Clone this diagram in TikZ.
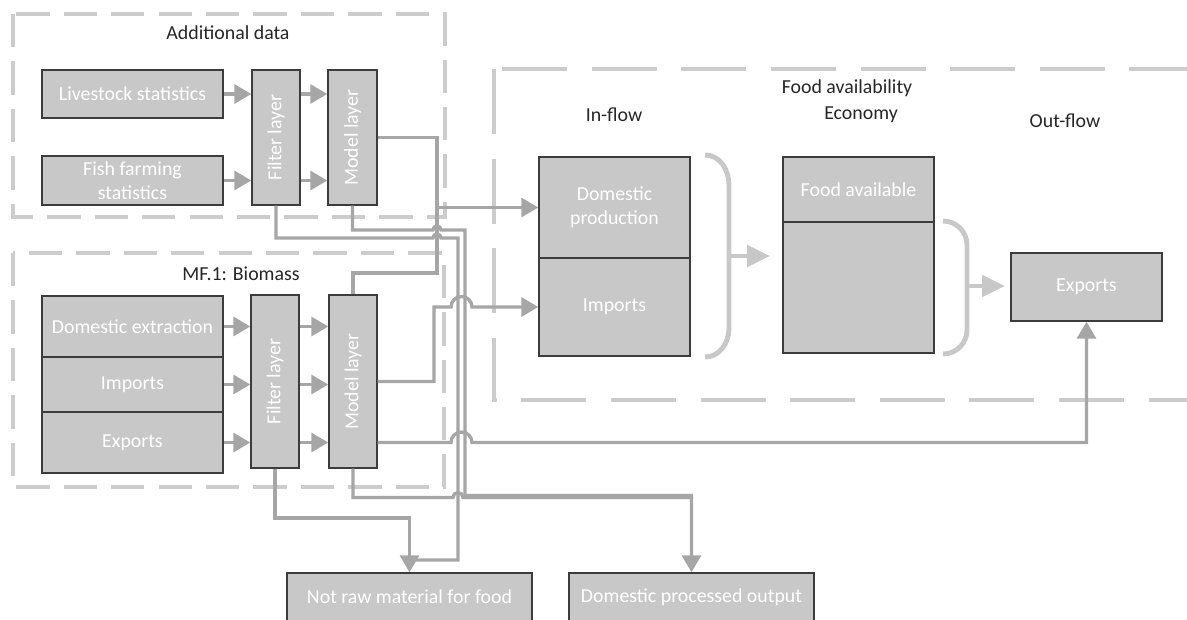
\documentclass[tikz,border=0pt]{standalone}
\usepackage{fontspec}
\setmainfont{Carlito}
\usetikzlibrary{arrows.meta}

\definecolor{boxgray}{RGB}{200,200,200}
\definecolor{edgegray}{RGB}{60,60,60}
\definecolor{linkgray}{RGB}{166,166,166}
\definecolor{dashgray}{RGB}{204,204,204}

\begin{document}
\begin{tikzpicture}[x=0.02cm,y=-0.02cm,>={Triangle[length=0.34cm,width=0.38cm]},font=\fontsize{11.3}{13.5}\selectfont]
  \tikzstyle{block}=[draw=edgegray,fill=boxgray,line width=0.8pt,text=white,inner sep=0pt,align=center]
  \tikzstyle{link}=[draw=linkgray,line width=1.9pt]
  \tikzstyle{flow}=[link,->]
  \tikzstyle{frame}=[draw=dashgray,line width=2pt,dash pattern=on 19pt off 8pt]
  \tikzstyle{bigframe}=[draw=dashgray,line width=2pt,dash pattern=on 37pt off 14pt]
  \tikzstyle{bracket}=[draw=boxgray,line width=2.8pt]
  \tikzstyle{title}=[text=black!85]

  \useasboundingbox (0,0) rectangle (1187,619);
  \clip (0,0) rectangle (1187,619);

  % dashed groups
  \draw[frame] (13,14) rectangle (445,217);
  \draw[frame] (13,253) rectangle (444,487);
  \draw[bigframe] (494,69) rectangle (1230,400);

  \node[title] (adtitle) at (228,33) {Additional data};
  \node[title] (mftitle) at (241,274) {MF.1: Biomass};
  \node[title] (fatitle) at (847,88) {Food availability};
  \node[title] (intitle) at (614,115) {In-flow};
  \node[title] (ectitle) at (861,115) {Economy};
  \node[title] (outtitle) at (1065,121) {Out-flow};

  % additional data
  \node[block,minimum width=3.62cm,minimum height=0.96cm] (live) at (132.5,94) {Livestock statistics};
  \node[block,minimum width=3.62cm,minimum height=0.98cm] (fish) at (132.5,180.5) {Fish farming\\statistics};
  \node[block,minimum width=0.96cm,minimum height=2.7cm] (filtA) at (276,137.5) {\rotatebox{90}{Filter layer}};
  \node[block,minimum width=0.98cm,minimum height=2.7cm] (modA) at (352.5,137.5) {\rotatebox{90}{Model layer}};

  % biomass
  \node[block,minimum width=3.62cm,minimum height=1.22cm] (bdext) at (132.5,326.5) {Domestic extraction};
  \node[block,minimum width=3.62cm,minimum height=1.1cm] (bimp) at (132.5,384.5) {Imports};
  \node[block,minimum width=3.62cm,minimum height=1.22cm] (bexp) at (132.5,442.5) {Exports};
  \node[block,minimum width=0.96cm,minimum height=3.46cm] (filtB) at (275,381.5) {\rotatebox{90}{Filter layer}};
  \node[block,minimum width=0.96cm,minimum height=3.46cm] (modB) at (353,381.5) {\rotatebox{90}{Model layer}};

  % food availability
  \node[block,minimum width=3.02cm,minimum height=2.02cm] (dprod) at (614.5,207.5) {Domestic\\production};
  \node[block,minimum width=3.02cm,minimum height=1.96cm] (fimp) at (614.5,307) {Imports};
  \node[block,minimum width=3.02cm,minimum height=1.3cm] (favail) at (858.5,189.5) {Food available};
  \node[block,minimum width=3.02cm,minimum height=2.62cm] (fstock) at (858.5,287.5) {};
  \node[block,minimum width=3.02cm,minimum height=1.36cm] (fexp) at (1086.5,287) {Exports};

  % outputs
  \node[block,minimum width=4.9cm,minimum height=0.96cm] (nraw) at (409.5,597) {Not raw material for food};
  \node[block,minimum width=4.9cm,minimum height=0.96cm] (dpo) at (691.5,597) {Domestic processed output};

  % into and out of the layers
  \foreach \src in {live,fish}{
    \draw[flow] (\src.east) -- (\src.east -| filtA.west);
    \draw[flow] (\src.east -| filtA.east) -- (\src.east -| modA.west);
  }
  \foreach \src in {bdext,bimp,bexp}{
    \draw[flow] (\src.east) -- (\src.east -| filtB.west);
    \draw[flow] (\src.east -| filtB.east) -- (\src.east -| modB.west);
  }

  % braces
  \draw[bracket] (705,155) to[out=0,in=90] (729,185) -- (729,328) to[out=-90,in=0] (705,357);
  \draw[bracket,-{Triangle[length=0.46cm,width=0.42cm]}] (729,256) -- (770,256);
  \draw[bracket] (943,221) to[out=0,in=90] (967,245) -- (967,330) to[out=-90,in=0] (943,354);
  \draw[bracket,-{Triangle[length=0.46cm,width=0.42cm]}] (967,286) -- (1005,286);

  % routing
  \coordinate (jdom) at (437,207.5);
  \draw[flow] (modA.east) -| (jdom) -- (dprod.west);
  \draw[link] (modB.north) |- (437,273) -- (jdom);
  \draw[flow] (modA.south) |- (433,230) arc[start angle=180,end angle=0,radius=0.08cm] -- (465,230) -- (465,495.5) -| (dpo.north);
  \draw[link] (filtA.south) |- (433,238) arc[start angle=180,end angle=0,radius=0.08cm] -- (458,238) -- (458,560) -- (409.5,560);
  \draw[flow] (filtB.south) |- (409.5,518) -- (nraw.north);
  \draw[link] (modB.south) |- (453,497.5) arc[start angle=180,end angle=0,radius=0.1cm] -- (691.5,497.5);
  \draw[flow] (modB.east) -| (434,307) -- (451,307) arc[start angle=180,end angle=0,radius=0.21cm] -- (fimp.west);
  \draw[flow] (bexp.east -| modB.east) -- (451,442.5) arc[start angle=180,end angle=0,radius=0.21cm] -| (fexp.south);

\end{tikzpicture}
\end{document}
